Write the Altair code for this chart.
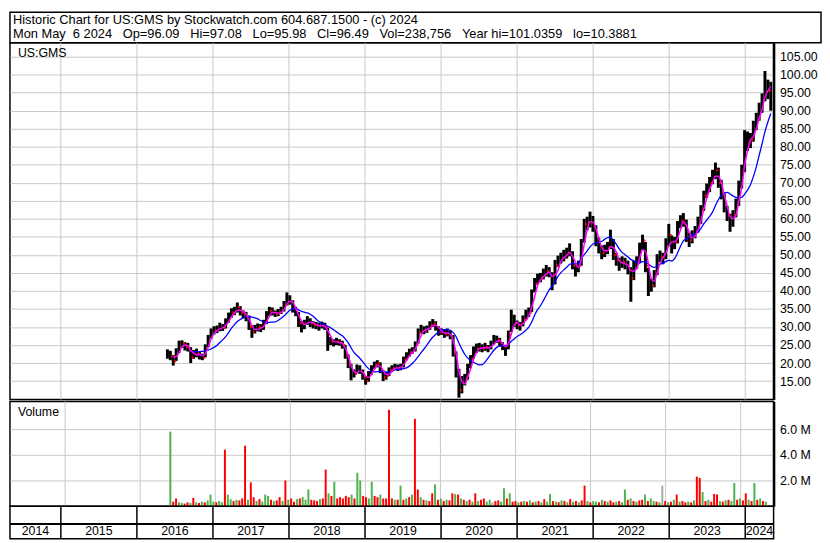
import altair as alt
import numpy as np
import pandas as pd

# ---------------- data ----------------
close = [
    22.5, 22.0, 20.5, 23.0, 25.0, 25.5, 24.5, 24.5, 21.5, 22.5,
    22.8, 21.8, 21.5, 24.5, 27.0, 28.5, 29.0, 29.5, 30.0, 29.8,
    31.5, 33.0, 34.0, 34.5, 35.5, 34.0, 33.5, 33.0, 30.0, 28.5,
    29.5, 30.0, 29.5, 31.0, 33.5, 34.5, 34.0, 33.5, 34.0, 34.5,
    36.0, 38.5, 37.0, 35.0, 34.0, 31.0, 30.0, 31.0, 32.0, 31.0,
    30.5, 30.5, 30.0, 30.5, 30.0, 26.5, 26.0, 25.5, 26.0, 25.5,
    25.0, 22.0, 19.5, 16.5, 17.0, 18.5, 18.0, 16.0, 15.0, 17.0,
    18.5, 19.5, 20.0, 18.0, 16.0, 16.5, 18.0, 18.5, 19.0, 18.5,
    19.0, 21.0, 22.0, 23.0, 23.5, 25.0, 28.5, 29.5, 29.0, 29.5,
    30.5, 31.0, 30.0, 28.5, 28.5, 28.0, 28.5, 27.5, 23.0, 18.0,
    12.5, 14.5, 15.5, 18.5, 21.0, 23.5, 24.0, 24.5, 24.0, 24.5,
    24.0, 25.0, 26.5, 26.5, 25.5, 24.5, 23.5, 28.0, 32.5, 31.0,
    30.5, 30.0, 32.0, 33.5, 34.0, 39.0, 42.0, 43.5, 43.5, 45.0,
    45.5, 45.0, 41.5, 47.0, 48.5, 49.0, 50.0, 50.5, 51.5, 47.0,
    45.5, 47.0, 53.0, 58.5, 59.0, 60.0, 58.0, 54.0, 52.0, 50.5,
    51.0, 52.0, 54.0, 50.0, 48.5, 47.0, 48.0, 47.5, 46.0, 43.5,
    47.0, 48.0, 52.0, 54.0, 47.0, 42.0, 41.5, 44.5, 49.0, 49.5,
    49.0, 53.0, 55.5, 52.0, 53.5, 58.0, 59.5, 60.0, 55.0, 54.0,
    55.0, 56.5, 59.0, 62.5, 66.5, 68.0, 70.0, 72.0, 73.5, 70.0,
    67.0, 63.0, 61.0, 58.0, 61.0, 64.0, 69.0, 73.0, 82.5, 81.0,
    82.0, 85.5, 87.5, 90.5, 93.0, 98.0, 95.5, 96.5,
]
high = [
    23.8, 23.4, 22.2, 24.1, 26.2, 26.3, 25.8, 25.6, 24.4, 23.6,
    24.0, 23.2, 22.6, 25.2, 27.8, 29.6, 30.2, 30.4, 31.2, 30.8,
    32.4, 34.0, 35.2, 35.6, 36.8, 35.8, 34.6, 34.2, 33.2, 30.4,
    30.6, 31.0, 30.8, 32.0, 34.4, 35.6, 35.4, 34.6, 35.0, 35.6,
    37.2, 39.6, 38.8, 37.4, 35.6, 34.2, 31.6, 32.0, 33.0, 32.4,
    31.6, 31.4, 31.2, 31.5, 31.2, 29.8, 27.2, 26.6, 27.0, 26.6,
    26.2, 25.0, 22.4, 19.8, 18.2, 19.6, 19.4, 18.2, 16.4, 17.8,
    19.4, 20.4, 20.8, 20.2, 18.0, 17.6, 18.8, 19.4, 19.8, 19.6,
    19.8, 21.8, 23.0, 24.0, 24.4, 26.0, 29.6, 30.6, 30.2, 30.4,
    31.6, 32.2, 31.6, 30.2, 29.6, 29.2, 29.6, 29.0, 27.8, 23.2,
    18.4, 16.4, 17.0, 19.8, 22.2, 24.6, 25.4, 25.6, 25.2, 25.6,
    25.0, 26.2, 27.8, 27.6, 27.0, 25.8, 25.0, 29.0, 34.8, 33.4,
    31.8, 31.4, 33.2, 34.8, 35.4, 40.4, 43.6, 44.8, 45.0, 46.2,
    47.2, 46.6, 45.2, 48.6, 49.8, 50.6, 51.4, 52.0, 53.2, 51.0,
    47.4, 48.4, 54.4, 60.0, 60.6, 62.0, 60.8, 58.2, 54.8, 52.6,
    52.8, 53.6, 57.0, 54.4, 50.6, 49.2, 49.6, 49.2, 48.4, 46.6,
    48.4, 49.6, 53.4, 55.6, 53.6, 46.4, 43.4, 45.8, 50.2, 51.2,
    50.6, 54.6, 58.6, 55.4, 55.0, 59.4, 61.0, 61.6, 59.8, 56.2,
    56.8, 58.0, 60.6, 63.8, 67.8, 69.8, 71.6, 73.6, 75.6, 74.2,
    70.8, 67.4, 63.6, 61.4, 62.4, 65.6, 70.6, 75.0, 84.6, 84.2,
    83.8, 87.2, 89.4, 92.2, 94.8, 101.0, 98.6, 98.0,
]
low = [
    21.2, 20.8, 19.3, 20.6, 22.8, 24.2, 23.5, 23.2, 20.0, 21.2,
    21.6, 21.0, 20.8, 21.6, 24.4, 26.8, 27.9, 28.3, 28.8, 28.9,
    29.6, 31.2, 32.6, 33.3, 34.0, 33.2, 32.4, 31.6, 29.2, 27.0,
    28.2, 28.8, 28.6, 29.2, 30.8, 33.0, 33.2, 32.8, 33.0, 33.6,
    34.3, 36.0, 36.2, 34.0, 33.0, 30.0, 28.5, 29.4, 30.6, 30.0,
    29.6, 29.4, 29.0, 29.6, 29.2, 23.4, 25.0, 24.6, 25.0, 24.8,
    24.0, 21.2, 18.6, 15.2, 16.0, 17.2, 17.0, 15.4, 14.0, 14.8,
    16.8, 18.4, 18.8, 17.2, 15.0, 15.4, 16.4, 17.6, 18.2, 17.8,
    18.0, 18.8, 20.8, 21.8, 22.6, 23.2, 25.4, 28.2, 28.0, 28.4,
    29.2, 30.0, 29.0, 27.6, 27.8, 27.0, 27.4, 26.6, 21.8, 16.0,
    10.4, 11.6, 13.8, 15.4, 18.6, 21.2, 22.8, 23.2, 23.0, 23.4,
    23.0, 23.8, 25.2, 25.6, 24.6, 23.6, 22.0, 23.8, 28.6, 30.0,
    29.4, 29.0, 30.2, 32.0, 32.8, 34.2, 39.6, 41.8, 42.4, 43.2,
    44.0, 43.8, 40.2, 41.8, 46.6, 47.6, 48.2, 49.0, 49.6, 46.0,
    44.0, 45.2, 47.0, 53.4, 56.8, 57.6, 56.4, 52.4, 50.4, 48.8,
    49.4, 50.2, 51.6, 48.6, 47.0, 45.6, 46.4, 46.0, 44.6, 37.0,
    43.0, 46.2, 47.8, 51.4, 45.2, 38.6, 39.8, 41.0, 44.4, 48.0,
    47.4, 48.8, 52.4, 50.4, 51.6, 53.2, 57.4, 57.8, 53.6, 52.2,
    53.2, 54.6, 56.2, 58.6, 62.2, 65.8, 67.4, 69.6, 71.0, 68.6,
    65.4, 61.8, 59.4, 56.4, 57.8, 60.4, 63.6, 68.4, 73.0, 78.8,
    79.6, 81.4, 84.6, 87.2, 89.4, 92.6, 93.2, 90.0,
]
volume_m = [
    5.8, 0.35, 0.6, 0.3, 0.25, 0.2, 0.3, 0.25, 0.65, 0.3,
    0.25, 0.35, 0.3, 0.45, 0.9, 0.35, 0.3, 0.4, 0.3, 4.4,
    0.9, 0.55, 0.4, 0.5, 0.45, 0.6, 4.7, 0.5, 1.85, 0.7,
    0.4, 0.55, 0.35, 0.9, 0.8, 0.5, 0.4, 0.45, 0.7, 0.4,
    2.0, 0.5, 0.6, 0.35, 0.55, 0.6, 0.7, 0.5, 1.3, 0.5,
    0.45, 0.4, 0.55, 0.6, 2.85, 1.0, 0.8, 1.9, 0.6, 0.7,
    0.6, 0.8, 0.7, 0.9, 0.6, 2.6, 2.0, 0.8, 0.7, 0.6,
    1.9, 0.8, 0.7, 0.9, 0.6, 0.6, 7.5, 0.6, 0.5, 0.5,
    1.6, 0.5, 0.6, 0.7, 0.9, 6.8, 1.3, 0.7, 0.5, 0.45,
    0.4, 1.0, 1.7, 0.5, 0.6, 0.4, 0.5, 0.45, 1.0, 0.95,
    0.9, 0.6, 0.5, 0.4, 0.5, 0.35, 1.0, 0.4, 0.5, 0.6,
    0.35, 0.5, 0.3, 0.4, 0.45, 0.35, 1.4, 0.6, 1.0, 0.35,
    0.4, 0.3, 0.35, 0.4, 0.35, 0.45, 0.3, 0.35, 0.4, 0.3,
    0.55, 0.35, 0.95, 0.4, 0.35, 0.3, 0.45, 0.4, 0.3, 0.55,
    0.35, 0.4, 0.3, 0.45, 1.6, 0.4, 0.3, 0.4, 0.35, 0.3,
    0.5, 0.4, 0.35, 0.45, 0.3, 0.35, 0.4, 0.3, 1.3, 0.5,
    0.6, 0.4, 0.35, 0.45, 0.5, 0.9, 0.4, 0.6, 0.4, 0.35,
    0.3, 1.6, 0.4, 0.3, 0.35, 0.5, 0.9, 0.35, 0.4, 0.3,
    0.35, 0.3, 0.45, 2.3, 2.2, 1.1, 0.4, 0.5, 0.35, 0.95,
    0.9, 0.4, 0.35, 0.45, 0.5, 0.4, 1.8, 0.5, 0.6, 0.45,
    1.0, 0.5, 0.4, 1.8, 0.5, 0.6, 0.4, 0.35,
]
# G = up (green), R = down (red), N = unchanged (grey)
direction = "".join([
    "GRRGGRRGRG", "RGRGGGRGGR", "GGRGRRRGRR", "GRGGGRGRRG", "RGRRGRGGGR",
    "RRGRRGRGRR", "RRRGRGGRRG", "GRRGRRRRGR", "GRGRGRRGRG", "RRGRGRGRRG",
    "RGRGRGRGRR", "GGNRRGGRGR", "RGRGRGRGRG", "RGGRGRGRGR", "GRGRRGRGGR",
    "GRGRRGRGGR", "GRGRRGRGGR", "GNRGRGRGRR", "GRGRRGRGRR", "RGRGRGGRGR",
    "RGRGRGRG",
])
years = list(range(2014, 2025))
price_ticks = list(range(15, 106, 5))
vol_ticks = [2, 4, 6]

SP = "\u00a0\u00a0\u00a0"
header1 = "Historic Chart for US:GMS by Stockwatch.com 604.687.1500 - (c) 2024"
header2 = ("Mon May\u00a0\u00a06 2024" + SP + "Op=96.09" + SP + "Hi=97.08" + SP + "Lo=95.98"
           + SP + "Cl=96.49" + SP + "Vol=238,756" + SP + "Year hi=101.0359" + SP + "lo=10.3881")

# ---------------- frames ----------------
dates = pd.date_range("2016-05-27", periods=len(close), freq="14D")
days_in_year = np.where(dates.is_leap_year, 366.0, 365.0)
tyear = dates.year + (dates.dayofyear - 1) / days_in_year

df = pd.DataFrame({
    "t": tyear, "close": close, "high": high, "low": low,
    "vol": volume_m, "dir": list(direction),
})

X0, X1 = 2014.331, 2024.373
bounds_df = pd.DataFrame({"t": [y for y in years if y > X0 and y < X1]})
labels_df = pd.DataFrame({
    "label": [str(y) for y in years],
    "mid": [(max(y, X0) + min(y + 1, X1)) / 2 for y in years],
})

FONT = "Arial, Liberation Sans, sans-serif"
W = 773
HP = 361
HV = 106
GRID = "#c8c8c8"

xs = alt.Scale(domain=[X0, X1], nice=False, zero=False)
X = alt.X("t:Q", scale=xs, axis=None)

ys = alt.Scale(domain=[9.9, 108.8], nice=False, zero=False)
yaxis = alt.Axis(orient="right", values=price_ticks, format=".2f", grid=True,
                 gridColor=GRID, gridWidth=1, ticks=False, labelPadding=6,
                 domain=True, domainColor="black", domainWidth=2.5,
                 labelFont=FONT, labelFontSize=12.5, labelColor="black",
                 labelFlush=False, labelOverlap=False, title=None)

base = alt.Chart(df)
vgrid = alt.Chart(bounds_df).mark_rule(color=GRID, strokeWidth=1).encode(x=X)

bars = base.mark_rule(color="black", strokeWidth=3).encode(
    x=X, y=alt.Y("low:Q", scale=ys, axis=yaxis), y2="high:Q")

ma = (base.transform_window(idx="row_number()")
      .transform_window(mag="mean(close)", frame=[-2, 0])
      .transform_window(blu="mean(close)", frame=[-9, 0]))

blue_line = ma.transform_filter("datum.idx >= 9").mark_line(
    color="#0000ff", strokeWidth=1.3, interpolate="monotone").encode(
    x=X, y=alt.Y("blu:Q", scale=ys, axis=yaxis))
mag_line = ma.transform_filter("datum.idx >= 3").mark_line(
    color="#ff00ff", strokeWidth=1.5, interpolate="monotone").encode(
    x=X, y=alt.Y("mag:Q", scale=ys, axis=yaxis))

dots = base.transform_filter("datum.dir == 'R'").mark_square(
    color="#ff0000", size=4, opacity=1, xOffset=2).encode(
    x=X, y=alt.Y("close:Q", scale=ys, axis=yaxis))

plabel = alt.Chart(pd.DataFrame({"s": ["US:GMS"]})).mark_text(
    align="left", baseline="middle", font=FONT, fontSize=12.5, color="black").encode(
    x=alt.value(8), y=alt.value(10), text="s:N")

price = alt.layer(vgrid, bars, dots, blue_line, mag_line, plabel).properties(width=W, height=HP)

spacer = alt.Chart(pd.DataFrame({"a": [0]})).mark_rule(opacity=0).encode(
    y=alt.value(0)).properties(width=W, height=2,
                               view=alt.ViewBackground(stroke="transparent"))

vs = alt.Scale(domain=[0, 8.15], nice=False, zero=True)
vaxis = alt.Axis(orient="right", values=vol_ticks,
                 labelExpr="format(datum.value, '.1f') + ' M'", grid=True,
                 gridColor=GRID, gridWidth=1, ticks=False, labelPadding=6,
                 domain=True, domainColor="black", domainWidth=2.5,
                 labelFont=FONT, labelFontSize=12.5, labelColor="black",
                 labelFlush=False, title=None)
vbars = base.mark_bar(size=2).encode(
    x=X, y=alt.Y("vol:Q", scale=vs, axis=vaxis),
    color=alt.Color("dir:N", scale=alt.Scale(domain=["G", "R", "N"],
                                             range=["#4cb34c", "#ff0000", "#a8a8a8"]),
                    legend=None))
vlabel = alt.Chart(pd.DataFrame({"s": ["Volume"]})).mark_text(
    align="left", baseline="middle", font=FONT, fontSize=12.5, color="black").encode(
    x=alt.value(8), y=alt.value(11), text="s:N")
vol = alt.layer(vgrid, vbars, vlabel).properties(width=W, height=HV)

brules = alt.Chart(bounds_df).mark_rule(color="black", strokeWidth=1.5).encode(x=X)
hline = alt.Chart(pd.DataFrame({"a": [0]})).mark_rule(color="black", strokeWidth=2).encode(
    x=alt.value(0), x2=alt.value(W), y=alt.value(18))
ylab = alt.Chart(labels_df).mark_text(
    font=FONT, fontSize=12.5, color="black", baseline="middle").encode(
    x=alt.X("mid:Q", scale=xs, axis=None), y=alt.value(25.5), text="label:N")
bottom = alt.layer(brules, hline, ylab).properties(width=W, height=33)

h1 = alt.Chart(pd.DataFrame({"s": [header1]})).mark_text(
    align="left", baseline="middle", font=FONT, fontSize=13, color="black").encode(
    x=alt.value(3), y=alt.value(8), text="s:N")
h2 = alt.Chart(pd.DataFrame({"s": [header2]})).mark_text(
    align="left", baseline="middle", font=FONT, fontSize=13, color="black").encode(
    x=alt.value(3), y=alt.value(22), text="s:N")
header = alt.layer(h1, h2).properties(width=821, height=31)

chart = alt.vconcat(
    header, price, spacer, vol, bottom,
    spacing=0,
    bounds="flush",
).properties(padding=0, background="white").configure_view(
    stroke="black", strokeWidth=1.5
)

chart.save("out.html", embed_options={"renderer": "svg", "actions": False})
